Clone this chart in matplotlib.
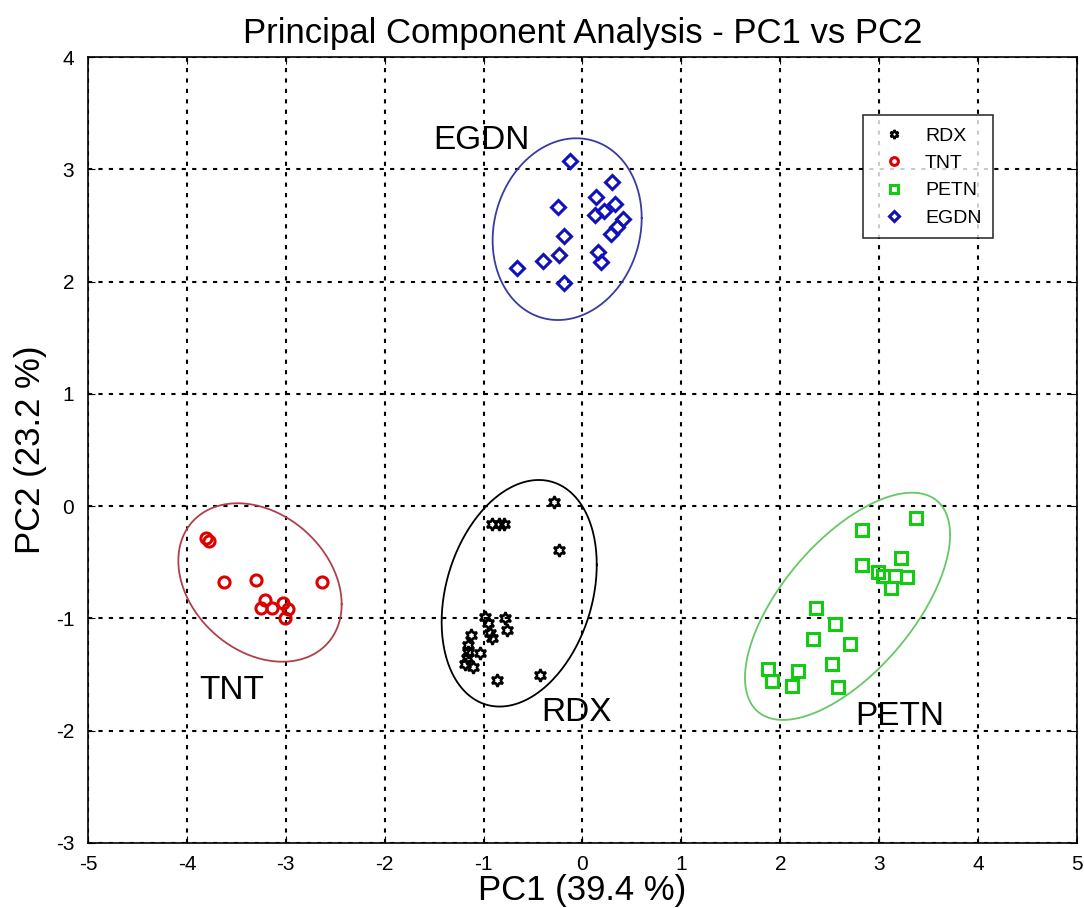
import numpy as np
import matplotlib
matplotlib.use("Agg")
import matplotlib.pyplot as plt

plt.rcParams['font.family'] = ['Liberation Sans', 'DejaVu Sans']
plt.rcParams['axes.unicode_minus'] = False

# PCA scores
rdx_x = [-0.29, -0.92, -0.84, -0.79, -0.24, -0.99, -0.96, -0.78, -0.76, -0.94,
         -0.91, -1.13, -1.16, -1.17, -1.04, -1.19, -1.11, -0.86, -0.43, -1.16]
rdx_y = [0.04, -0.16, -0.16, -0.16, -0.39, -0.99, -1.04, -1.00, -1.10, -1.13,
         -1.17, -1.15, -1.30, -1.35, -1.31, -1.41, -1.43, -1.55, -1.50, -1.24]

tnt_x = [-3.81, -3.78, -3.63, -3.30, -2.63, -3.21, -3.25, -3.14, -3.03, -2.98, -3.01]
tnt_y = [-0.28, -0.31, -0.68, -0.66, -0.68, -0.84, -0.91, -0.91, -0.86, -0.92, -1.00]

petn_x = [3.37, 2.83, 3.22, 2.83, 2.99, 3.04, 3.16, 3.28, 3.12, 2.36,
          2.55, 2.33, 2.71, 2.52, 1.88, 2.18, 1.92, 2.12, 2.58]
petn_y = [-0.11, -0.21, -0.46, -0.52, -0.59, -0.62, -0.62, -0.63, -0.73, -0.91,
          -1.05, -1.18, -1.23, -1.41, -1.45, -1.47, -1.56, -1.60, -1.61]

egdn_x = [-0.13, 0.30, 0.14, 0.33, 0.22, 0.13, 0.41, 0.35, 0.29, -0.25,
          -0.19, -0.24, -0.40, -0.66, -0.19, 0.16, 0.19]
egdn_y = [3.07, 2.89, 2.75, 2.69, 2.63, 2.59, 2.56, 2.49, 2.42, 2.66,
          2.41, 2.24, 2.18, 2.12, 1.99, 2.26, 2.17]

# confidence ellipses: centre x, centre y, var x, var y, cov xy
ell_rdx = [-0.64, -0.776, 0.615, 1.018, 0.20]
ell_tnt = [-3.261, -0.680, 0.682, 0.498, -0.16]
ell_petn = [2.680, -0.892, 1.075, 1.024, 0.66]
ell_egdn = [-0.155, 2.467, 0.568, 0.655, 0.075]


def ellipse_pts(e, n=300):
    cx, cy, sxx, syy, sxy = e
    L = np.linalg.cholesky(np.array([[sxx, sxy], [sxy, syy]]))
    t = np.linspace(0, 2 * np.pi, n)
    pts = L @ np.vstack([np.cos(t), np.sin(t)])
    return cx + pts[0], cy + pts[1]


fig = plt.figure(figsize=(10.84, 9.08), dpi=100)
ax = fig.add_axes([0.0812, 0.0716, 0.9123, 0.8656])

hexagram = (6, 1, 0)
ax.plot(rdx_x, rdx_y, linestyle='none', marker=hexagram, ms=9, mfc='none',
        mec='black', mew=1.8, label='RDX')
ax.plot(tnt_x, tnt_y, linestyle='none', marker='o', ms=8, mfc='none',
        mec='#dd0000', mew=2.2, label='TNT')
ax.plot(petn_x, petn_y, linestyle='none', marker='s', ms=9, mfc='none',
        mec='#11cc11', mew=2.2, label='PETN')
ax.plot(egdn_x, egdn_y, linestyle='none', marker='D', ms=7.5, mfc='none',
        mec='#1111bb', mew=2.2, label='EGDN')

for e, c in [(ell_rdx, 'black'), (ell_tnt, '#b0404c'),
             (ell_petn, '#66c866'), (ell_egdn, '#3a3aa0')]:
    ex, ey = ellipse_pts(e)
    ax.plot(ex, ey, color=c, lw=1.3)

lab_kw = dict(fontsize=24, ha='center', va='center')
ax.text(-1.02, 3.26, 'EGDN', **lab_kw)
ax.text(-3.55, -1.64, 'TNT', **lab_kw)
ax.text(-0.06, -1.84, 'RDX', **lab_kw)
ax.text(3.21, -1.87, 'PETN', **lab_kw)

ax.set_xlim(-5, 5)
ax.set_ylim(-3, 4)
ax.set_xticks(range(-5, 6))
ax.set_yticks(range(-3, 5))
ax.grid(True, color='black', linestyle=(0, (2, 3)), lw=1.5)
ax.tick_params(direction='in', top=True, right=True, labelsize=15, length=5)
ax.tick_params(axis='x', pad=9)
ax.tick_params(axis='y', pad=10)
for s in ax.spines.values():
    s.set_linewidth(1.2)

ax.set_title('Principal Component Analysis - PC1 vs PC2', fontsize=25, pad=10)
ax.set_xlabel('PC1 (39.4 %)', fontsize=25, labelpad=0)
ax.set_ylabel('PC2 (23.2 %)', fontsize=25, labelpad=6)

leg = ax.legend(loc='upper right', bbox_to_anchor=(0.925, 0.938), fontsize=14,
                fancybox=False, edgecolor='black', markerscale=0.7,
                handletextpad=0.6, borderpad=0.6, labelspacing=0.5)
leg.get_frame().set_linewidth(1.2)

fig.savefig('out.png', dpi=100)
